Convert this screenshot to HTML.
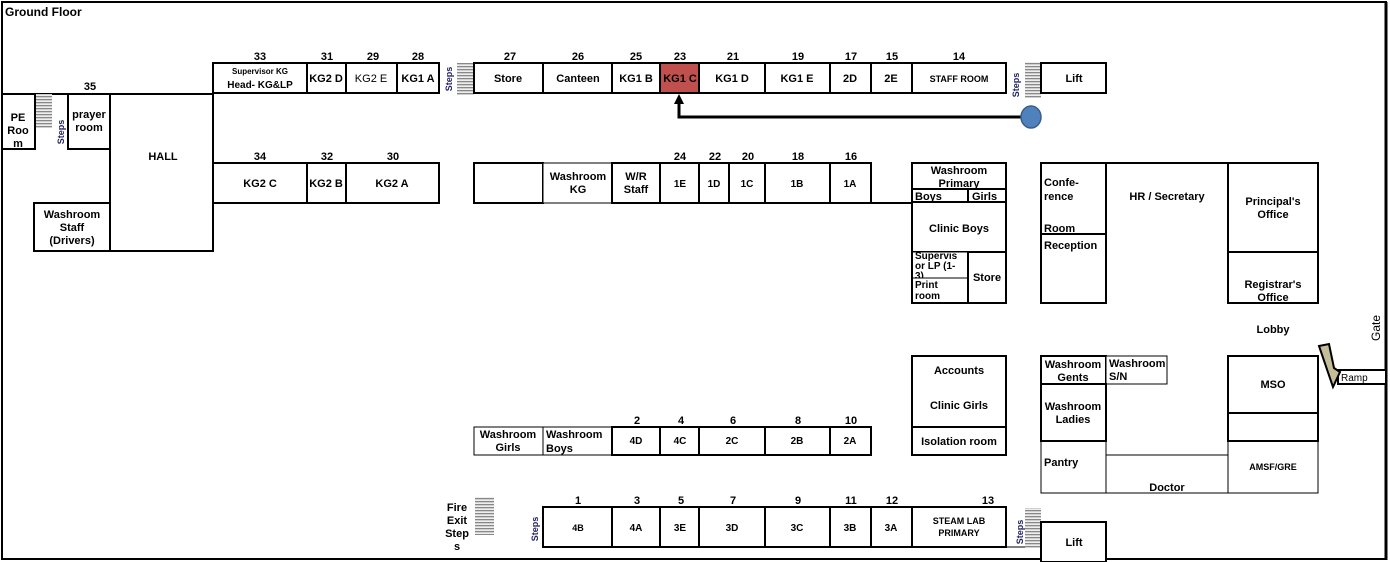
<!DOCTYPE html>
<html><head><meta charset="utf-8"><style>
body{margin:0;background:#fff}
svg{display:block}
text{font-family:"Liberation Sans",sans-serif;font-weight:bold;font-size:11px;fill:#000}
.b{fill:#fff;stroke:#000;stroke-width:2}
.t{fill:#fff;stroke:#000;stroke-width:1}
</style></head><body>
<svg width="1390" height="562" viewBox="0 0 1390 562" xmlns="http://www.w3.org/2000/svg">
<defs>
<pattern id="st" width="4" height="3" patternUnits="userSpaceOnUse"><rect width="4" height="3" fill="#eee"/><rect width="4" height="1.3" fill="#888"/></pattern>
</defs>
<rect x="2" y="2" width="1384" height="557" fill="#fff" stroke="#000" stroke-width="2"/>
<line x1="1386" y1="2" x2="1386" y2="560" stroke="#000" stroke-width="3"/>
<text x="5" y="16" style="font-size:12px">Ground Floor</text>

<!-- left -->
<line x1="2" y1="94" x2="213" y2="94" stroke="#000" stroke-width="2"/>
<rect class="b" x="2" y="94" width="33" height="55"/>
<text x="18" y="121" text-anchor="middle">PE</text><text x="18" y="134" text-anchor="middle">Roo</text><text x="18" y="147" text-anchor="middle">m</text>
<rect x="36" y="94" width="16" height="34" fill="url(#st)"/>
<text transform="translate(64,132) rotate(-90)" text-anchor="middle" style="font-size:9px;fill:#1f1f5f">Steps</text>
<rect class="b" x="68" y="94" width="42" height="55"/>
<text x="89" y="118" text-anchor="middle">prayer</text><text x="89" y="131" text-anchor="middle">room</text>
<rect class="b" x="110" y="94" width="103" height="157"/>
<text x="163" y="160" text-anchor="middle">HALL</text>
<rect class="b" x="34" y="203" width="76" height="48"/>
<text x="72" y="218" text-anchor="middle">Washroom</text><text x="72" y="231" text-anchor="middle">Staff</text><text x="72" y="244" text-anchor="middle">(Drivers)</text>
<text x="90" y="90" text-anchor="middle">35</text>

<!-- top row -->
<g>
<rect class="b" x="213" y="63" width="94" height="30"/>
<text x="260" y="74" text-anchor="middle" style="font-size:8px">Supervisor KG</text>
<text x="260" y="88" text-anchor="middle" style="font-size:10px">Head- KG&amp;LP</text>
<rect class="b" x="307" y="63" width="39" height="30"/><text x="326" y="82" text-anchor="middle">KG2 D</text>
<rect class="b" x="346" y="63" width="51" height="30"/><text x="371" y="82" text-anchor="middle" style="font-weight:normal">KG2 E</text>
<rect class="b" x="397" y="63" width="42" height="30"/><text x="418" y="82" text-anchor="middle">KG1 A</text>
<text x="260" y="60" text-anchor="middle">33</text><text x="327" y="60" text-anchor="middle">31</text><text x="373" y="60" text-anchor="middle">29</text><text x="418" y="60" text-anchor="middle">28</text>
<rect x="457" y="63" width="17" height="32" fill="url(#st)"/>
<text transform="translate(452,79) rotate(-90)" text-anchor="middle" style="font-size:9px;fill:#1f1f5f">Steps</text>
<rect class="b" x="474" y="63" width="69" height="30"/><text x="508" y="82" text-anchor="middle">Store</text>
<rect class="b" x="543" y="63" width="69" height="30"/><text x="578" y="82" text-anchor="middle">Canteen</text>
<rect class="b" x="612" y="63" width="48" height="30"/><text x="636" y="82" text-anchor="middle">KG1 B</text>
<rect x="660" y="63" width="39" height="30" fill="#c0504d" stroke="#000" stroke-width="2"/><text x="680" y="82" text-anchor="middle">KG1 C</text>
<rect class="b" x="699" y="63" width="66" height="30"/><text x="732" y="82" text-anchor="middle">KG1 D</text>
<rect class="b" x="765" y="63" width="65" height="30"/><text x="797" y="82" text-anchor="middle">KG1 E</text>
<rect class="b" x="830" y="63" width="41" height="30"/><text x="850" y="82" text-anchor="middle">2D</text>
<rect class="b" x="871" y="63" width="41" height="30"/><text x="891" y="82" text-anchor="middle">2E</text>
<rect class="b" x="912" y="63" width="94" height="30"/><text x="959" y="82" text-anchor="middle" style="font-size:9px">STAFF ROOM</text>
<text x="510" y="60" text-anchor="middle">27</text><text x="578" y="60" text-anchor="middle">26</text><text x="636" y="60" text-anchor="middle">25</text><text x="680" y="60" text-anchor="middle">23</text><text x="733" y="60" text-anchor="middle">21</text><text x="798" y="60" text-anchor="middle">19</text><text x="851" y="60" text-anchor="middle">17</text><text x="892" y="60" text-anchor="middle">15</text><text x="959" y="60" text-anchor="middle">14</text>
<rect x="1025" y="62" width="16" height="36" fill="url(#st)"/>
<text transform="translate(1019,85) rotate(-90)" text-anchor="middle" style="font-size:9px;fill:#1f1f5f">Steps</text>
<rect class="b" x="1041" y="63" width="65" height="30"/><text x="1074" y="82" text-anchor="middle">Lift</text>
</g>

<!-- arrow -->
<polyline points="1021,117 679,117 679,102" fill="none" stroke="#000" stroke-width="3"/>
<polygon points="674,104 684,104 679,94" fill="#000"/>
<ellipse cx="1031" cy="117" rx="10" ry="11" fill="#4f81bd" stroke="#385d8a" stroke-width="1.5"/>

<!-- row 2 -->
<rect class="b" x="213" y="163" width="94" height="40"/><text x="260" y="187" text-anchor="middle">KG2 C</text>
<rect class="b" x="307" y="163" width="39" height="40"/><text x="326" y="187" text-anchor="middle">KG2 B</text>
<rect class="b" x="346" y="163" width="93" height="40"/><text x="392" y="187" text-anchor="middle">KG2 A</text>
<text x="260" y="160" text-anchor="middle">34</text><text x="327" y="160" text-anchor="middle">32</text><text x="393" y="160" text-anchor="middle">30</text>

<line x1="871" y1="203" x2="912" y2="203" stroke="#000" stroke-width="2"/>
<rect class="b" x="474" y="163" width="69" height="40"/>
<rect class="t" x="543" y="163" width="69" height="40"/><text x="578" y="180" text-anchor="middle">Washroom</text><text x="578" y="193" text-anchor="middle">KG</text>
<rect class="b" x="612" y="163" width="48" height="40"/><text x="636" y="180" text-anchor="middle">W/R</text><text x="636" y="193" text-anchor="middle">Staff</text>
<rect class="b" x="660" y="163" width="39" height="40"/><text x="680" y="187" text-anchor="middle" style="font-size:10px">1E</text>
<rect class="b" x="699" y="163" width="30" height="40"/><text x="714" y="187" text-anchor="middle" style="font-size:10px">1D</text>
<rect class="b" x="729" y="163" width="36" height="40"/><text x="747" y="187" text-anchor="middle" style="font-size:10px">1C</text>
<rect class="b" x="765" y="163" width="65" height="40"/><text x="797" y="187" text-anchor="middle" style="font-size:10px">1B</text>
<rect class="b" x="830" y="163" width="41" height="40"/><text x="850" y="187" text-anchor="middle" style="font-size:10px">1A</text>
<text x="680" y="160" text-anchor="middle">24</text><text x="715" y="160" text-anchor="middle">22</text><text x="748" y="160" text-anchor="middle">20</text><text x="798" y="160" text-anchor="middle">18</text><text x="851" y="160" text-anchor="middle">16</text>

<!-- primary washroom block -->
<rect class="b" x="912" y="163" width="94" height="26"/><text x="959" y="174" text-anchor="middle">Washroom</text><text x="959" y="187" text-anchor="middle">Primary</text>
<rect class="b" x="912" y="189" width="56" height="13"/><text x="915" y="200">Boys</text>
<rect class="b" x="968" y="189" width="38" height="13"/><text x="972" y="200">Girls</text>
<rect class="b" x="912" y="202" width="94" height="50"/><text x="959" y="232" text-anchor="middle">Clinic  Boys</text>
<rect class="t" x="912" y="252" width="56" height="26"/><text x="915" y="259" style="font-size:10px">Supervis</text><text x="915" y="269" style="font-size:10px">or LP  (1-</text><text x="915" y="279" style="font-size:10px">3)</text>
<rect class="t" x="912" y="278" width="56" height="25"/><text x="915" y="288" style="font-size:10px">Print</text><text x="915" y="299" style="font-size:10px">room</text>
<rect class="b" x="968" y="252" width="38" height="51"/><text x="987" y="281" text-anchor="middle">Store</text>
<rect fill="none" stroke="#000" stroke-width="2" x="912" y="163" width="94" height="140"/>

<!-- admin block -->
<rect class="b" x="1041" y="163" width="65" height="71"/><text x="1044" y="186">Confe-</text><text x="1044" y="200">rence</text><text x="1044" y="232">Room</text>
<rect class="b" x="1041" y="234" width="65" height="69"/><text x="1044" y="249">Reception</text>
<line x1="1106" y1="163" x2="1228" y2="163" stroke="#000" stroke-width="2"/>
<text x="1167" y="200" text-anchor="middle">HR / Secretary</text>
<rect class="b" x="1228" y="163" width="90" height="89"/><text x="1273" y="205" text-anchor="middle">Principal's</text><text x="1273" y="218" text-anchor="middle">Office</text>
<rect class="b" x="1228" y="252" width="90" height="51"/><text x="1273" y="288" text-anchor="middle">Registrar's</text><text x="1273" y="301" text-anchor="middle">Office</text>
<text x="1273" y="333" text-anchor="middle">Lobby</text>
<text transform="translate(1380,328) rotate(-90)" text-anchor="middle" style="font-weight:normal;font-size:12px">Gate</text>

<rect class="b" x="912" y="356" width="94" height="71"/><text x="959" y="374" text-anchor="middle">Accounts</text><text x="959" y="409" text-anchor="middle">Clinic Girls</text>
<rect class="b" x="912" y="427" width="94" height="28"/><text x="959" y="445" text-anchor="middle">Isolation room</text>

<rect class="t" x="1041" y="441" width="65" height="52"/><text x="1044" y="466">Pantry</text>
<rect class="t" x="1106" y="455" width="122" height="38"/><text x="1167" y="491" text-anchor="middle">Doctor</text>
<rect class="t" x="1228" y="441" width="90" height="52"/><text x="1273" y="470" text-anchor="middle" style="font-size:9px">AMSF/GRE</text>
<rect class="b" x="1041" y="356" width="65" height="28"/><text x="1073" y="368" text-anchor="middle">Washroom</text><text x="1073" y="381" text-anchor="middle">Gents</text>
<rect class="t" x="1106" y="356" width="61" height="28"/><text x="1109" y="367">Washroom</text><text x="1109" y="380">S/N</text>
<rect class="b" x="1041" y="384" width="65" height="57"/><text x="1073" y="410" text-anchor="middle">Washroom</text><text x="1073" y="423" text-anchor="middle">Ladies</text>
<rect class="b" x="1228" y="356" width="90" height="57"/><text x="1273" y="388" text-anchor="middle">MSO</text>
<rect class="b" x="1228" y="413" width="90" height="28"/>
<rect class="b" x="1338" y="370" width="48" height="14"/><text x="1341" y="381" style="font-weight:normal;font-size:10px">Ramp</text>
<polygon points="1319,346 1329,344 1334,368 1340,372 1333,387" fill="#c4bd97" stroke="#000" stroke-width="2"/>

<!-- row A -->
<rect class="t" x="474" y="427" width="69" height="28"/><text x="508" y="438" text-anchor="middle">Washroom</text><text x="508" y="451" text-anchor="middle">Girls</text>
<rect class="t" x="543" y="427" width="69" height="28"/><text x="546" y="438">Washroom</text><text x="546" y="452">Boys</text>
<rect class="b" x="612" y="427" width="48" height="28"/><text x="636" y="444" text-anchor="middle" style="font-size:10px">4D</text>
<rect class="b" x="660" y="427" width="39" height="28"/><text x="680" y="444" text-anchor="middle" style="font-size:10px">4C</text>
<rect class="b" x="699" y="427" width="66" height="28"/><text x="732" y="444" text-anchor="middle" style="font-size:10px">2C</text>
<rect class="b" x="765" y="427" width="65" height="28"/><text x="797" y="444" text-anchor="middle" style="font-size:10px">2B</text>
<rect class="b" x="830" y="427" width="41" height="28"/><text x="850" y="444" text-anchor="middle" style="font-size:10px">2A</text>
<text x="637" y="424" text-anchor="middle">2</text><text x="681" y="424" text-anchor="middle">4</text><text x="733" y="424" text-anchor="middle">6</text><text x="798" y="424" text-anchor="middle">8</text><text x="851" y="424" text-anchor="middle">10</text>

<!-- row B -->
<rect x="475" y="497" width="19" height="38" fill="url(#st)"/>
<text x="457" y="511" text-anchor="middle">Fire</text><text x="457" y="524" text-anchor="middle">Exit</text><text x="457" y="537" text-anchor="middle">Step</text><text x="457" y="550" text-anchor="middle">s</text>
<text transform="translate(538,529) rotate(-90)" text-anchor="middle" style="font-size:9px;fill:#1f1f5f">Steps</text>
<line x1="1006" y1="547" x2="1041" y2="547" stroke="#000" stroke-width="1"/>
<rect class="b" x="543" y="507" width="69" height="40"/><text x="578" y="531" text-anchor="middle" style="font-size:9px">4B</text>
<rect class="b" x="612" y="507" width="48" height="40"/><text x="636" y="531" text-anchor="middle" style="font-size:10px">4A</text>
<rect class="b" x="660" y="507" width="39" height="40"/><text x="680" y="531" text-anchor="middle" style="font-size:10px">3E</text>
<rect class="b" x="699" y="507" width="66" height="40"/><text x="732" y="531" text-anchor="middle" style="font-size:10px">3D</text>
<rect class="b" x="765" y="507" width="65" height="40"/><text x="797" y="531" text-anchor="middle" style="font-size:10px">3C</text>
<rect class="b" x="830" y="507" width="41" height="40"/><text x="850" y="531" text-anchor="middle" style="font-size:10px">3B</text>
<rect class="b" x="871" y="507" width="41" height="40"/><text x="891" y="531" text-anchor="middle" style="font-size:10px">3A</text>
<rect class="b" x="912" y="507" width="94" height="40"/><text x="959" y="524" text-anchor="middle" style="font-size:9px">STEAM LAB</text><text x="959" y="536" text-anchor="middle" style="font-size:9px">PRIMARY</text>
<text x="578" y="504" text-anchor="middle">1</text><text x="637" y="504" text-anchor="middle">3</text><text x="681" y="504" text-anchor="middle">5</text><text x="733" y="504" text-anchor="middle">7</text><text x="798" y="504" text-anchor="middle">9</text><text x="851" y="504" text-anchor="middle">11</text><text x="892" y="504" text-anchor="middle">12</text><text x="988" y="504" text-anchor="middle">13</text>
<rect x="1025" y="508" width="16" height="40" fill="url(#st)"/>
<text transform="translate(1023,532) rotate(-90)" text-anchor="middle" style="font-size:9px;fill:#1f1f5f">Steps</text>
<rect class="b" x="1041" y="522" width="65" height="40"/><text x="1074" y="546" text-anchor="middle">Lift</text>
</svg>
</body></html>
